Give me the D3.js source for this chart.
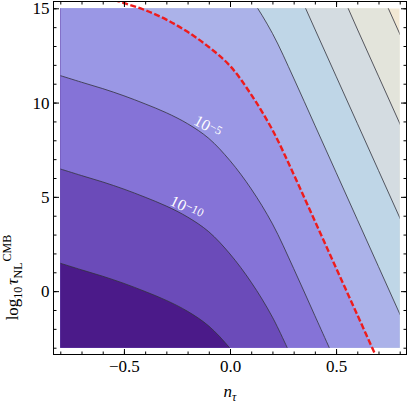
<!DOCTYPE html>
<html>
<head>
<meta charset="utf-8">
<script src="https://cdnjs.cloudflare.com/ajax/libs/d3/7.8.5/d3.min.js"></script>
<style>
  body { margin: 0; background: #fff; }
  svg { display: block; }
  text { font-family: "Liberation Serif", "Times New Roman", serif; }
</style>
</head>
<body>
<svg id="chart" width="409" height="403"></svg>
<script>
// contour levels (log10), each traced as [n_tau, log10 tau_NL] points
const levels = [-15, -10, -5, 0, 5, 10, 15, 20];

const lineM15 = [[-0.8, 1.48], [-0.7, 1.13], [-0.6, 0.79], [-0.5, 0.41], [-0.4, -0.02], [-0.3, -0.49], [-0.2, -1.07], [-0.1, -1.85], [0.0, -3.03], [0.1, -4.53]];
const lineM10 = [[-0.8, 6.48], [-0.7, 6.13], [-0.6, 5.79], [-0.5, 5.41], [-0.4, 4.98], [-0.3, 4.51], [-0.2, 3.93], [-0.1, 3.15], [0.0, 1.97], [0.1, 0.47], [0.2, -1.38], [0.3, -3.75]];
const lineM5 = [[-0.8, 11.43], [-0.7, 11.08], [-0.6, 10.74], [-0.5, 10.36], [-0.4, 9.93], [-0.3, 9.46], [-0.2, 8.88], [-0.1, 8.1], [0.0, 6.92], [0.1, 5.42], [0.2, 3.57], [0.3, 1.2], [0.4, -1.3], [0.5, -3.8]];
const line0 = [[-0.7, 15.95], [-0.6, 15.62], [-0.5, 15.28], [-0.4, 14.9], [-0.3, 14.4], [-0.2, 13.75], [-0.1, 12.95], [0.0, 11.95], [0.1, 10.42], [0.2, 8.55], [0.3, 6.2], [0.4, 3.72], [0.5, 1.23], [0.6, -1.25], [0.7, -3.75]];
const line5 = [[0.0, 17.02], [0.1, 15.52], [0.2, 13.67], [0.3, 11.3], [0.4, 8.8], [0.5, 6.3], [0.6, 3.8], [0.7, 1.3], [0.8, -1.2], [0.9, -3.7]];
const line10 = [[0.2, 18.77], [0.3, 16.4], [0.4, 13.9], [0.5, 11.4], [0.6, 8.9], [0.7, 6.4], [0.8, 3.9], [0.9, 1.4]];
const line15 = [[0.4, 18.95], [0.5, 16.45], [0.6, 13.9], [0.7, 11.4], [0.8, 8.9], [0.9, 6.4]];
const line20 = [[0.6, 18.65], [0.7, 16.15], [0.8, 13.65], [0.9, 11.15]];

const contourLines = [lineM15, lineM10, lineM5, line0, line5, line10, line15, line20];

const labelText = ["10", "10"];
const labelExp = ["\u221210", "\u22125"];
const labelAt = [[-0.293, 4.5], [-0.18, 8.78]];
const labelAngle = [26, 29];

const xMinor = [-0.8, -0.7, -0.6, -0.5, -0.4, -0.3, -0.2, -0.1, 0, 0.1, 0.2, 0.3, 0.4, 0.5, 0.6, 0.7, 0.8];
const xMajor = [-0.5, 0, 0.5];
const yMinor = [-3, -2, -1, 0, 1, 2, 3, 4, 5, 6, 7, 8, 9, 10, 11, 12, 13, 14, 15];
const yMajor = [0, 5, 10, 15];

// band colours, lowest band first
const bandColors = ["#4b1a89", "#6b4bb9", "#8573d7", "#9a97e5", "#abb2e9", "#bfd6e7", "#d4dce1", "#e3e4db", "#f2e8d4"];

const svg = d3.select("#chart");

const x = d3.scaleLinear().domain([-0.832, 0.832]).range([53.5, 406.5]);
const y = d3.scaleLinear().domain([-3.36, 15.36]).range([354.5, 1.5]);

const defs = svg.append("defs");
defs.append("clipPath").attr("id", "plotclip")
  .append("rect")
  .attr("x", x(-0.8)).attr("y", y(15))
  .attr("width", x(0.8) - x(-0.8)).attr("height", y(-3) - y(15));
defs.append("clipPath").attr("id", "frameclip")
  .append("rect")
  .attr("x", x.range()[0]).attr("y", y.range()[1])
  .attr("width", x.range()[1] - x.range()[0]).attr("height", y.range()[0] - y.range()[1]);

const line = d3.line().x(d => x(d[0])).y(d => y(d[1])).curve(d3.curveCatmullRom.alpha(0.5));

// filled bands: top band as background, then below-left of each contour from high to low
const fills = svg.append("g").attr("clip-path", "url(#plotclip)");
fills.append("rect")
  .attr("x", x(-0.8)).attr("y", y(15))
  .attr("width", x(0.8) - x(-0.8)).attr("height", y(-3) - y(15))
  .attr("fill", bandColors[levels.length]);

for (let i = levels.length - 1; i >= 0; i--) {
  const pts = contourLines[i];
  const first = pts[0], last = pts[pts.length - 1];
  const corners = [[last[0] + 1, -10], [-2, -10], [-2, 20], [first[0], 20]];
  const d = line(pts) + corners.map(p => "L" + x(p[0]) + "," + y(p[1])).join("") + "Z";
  fills.append("path").attr("d", d).attr("fill", bandColors[i]);
}

// contour lines
const strokes = svg.append("g").attr("clip-path", "url(#plotclip)");
contourLines.forEach((pts, i) => {
  if (levels[i] === 0) return;
  strokes.append("path")
    .attr("d", line(pts))
    .attr("fill", "none")
    .attr("stroke", "#33333d")
    .attr("stroke-opacity", 0.8)
    .attr("stroke-width", 1);
});

// contour labels
labelAt.forEach((p, i) => {
  const t = svg.append("text")
    .attr("transform", `translate(${x(p[0])},${y(p[1])}) rotate(${labelAngle[i]})`)
    .attr("fill", "#fff")
    .attr("font-size", 16)
    .attr("dy", -2);
  t.append("tspan").text(labelText[i]);
  t.append("tspan").attr("font-size", 12).attr("dy", -3).text(labelExp[i]);
});

// red dashed level-0 line
svg.append("path")
  .attr("clip-path", "url(#frameclip)")
  .attr("d", line(line0))
  .attr("fill", "none")
  .attr("stroke", "#ee1c1c")
  .attr("stroke-width", 2.4)
  .attr("stroke-dasharray", "6,2.5");

// frame ticks (inward)
function styleAxis(g) {
  g.select(".domain").remove();
  g.selectAll("line").attr("stroke", "#000").attr("stroke-width", 1);
  g.selectAll("text").attr("font-size", 17).attr("font-family", "'Liberation Serif', 'Times New Roman', serif").attr("fill", "#000");
}
const yb = y.range()[0], yt = y.range()[1], xl = x.range()[0], xr = x.range()[1];

svg.append("g").attr("transform", `translate(0,${yb})`)
  .call(d3.axisBottom(x).tickValues(xMinor).tickSize(-3).tickFormat("")).call(styleAxis);
svg.append("g").attr("transform", `translate(0,${yb})`)
  .call(d3.axisBottom(x).tickValues(xMajor).tickSize(-5.5).tickPadding(5).tickFormat(d3.format(".1f"))).call(styleAxis);
svg.append("g").attr("transform", `translate(0,${yt})`)
  .call(d3.axisTop(x).tickValues(xMinor).tickSize(-3).tickFormat("")).call(styleAxis);
svg.append("g").attr("transform", `translate(0,${yt})`)
  .call(d3.axisTop(x).tickValues(xMajor).tickSize(-5.5).tickFormat("")).call(styleAxis);

svg.append("g").attr("transform", `translate(${xl},0)`)
  .call(d3.axisLeft(y).tickValues(yMinor).tickSize(-3).tickFormat("")).call(styleAxis);
svg.append("g").attr("transform", `translate(${xl},0)`)
  .call(d3.axisLeft(y).tickValues(yMajor).tickSize(-5.5).tickPadding(4).tickFormat(d3.format("d"))).call(styleAxis);
svg.append("g").attr("transform", `translate(${xr},0)`)
  .call(d3.axisRight(y).tickValues(yMinor).tickSize(-3).tickFormat("")).call(styleAxis);
svg.append("g").attr("transform", `translate(${xr},0)`)
  .call(d3.axisRight(y).tickValues(yMajor).tickSize(-5.5).tickFormat("")).call(styleAxis);

svg.append("rect")
  .attr("x", xl).attr("y", yt)
  .attr("width", xr - xl).attr("height", yb - yt)
  .attr("fill", "none").attr("stroke", "#000").attr("stroke-width", 1);

// axis titles
const xt = svg.append("text")
  .attr("x", x(0)).attr("y", 397)
  .attr("text-anchor", "middle")
  .attr("font-size", 17).attr("font-style", "italic");
xt.append("tspan").text("n");
xt.append("tspan").attr("font-size", 12).attr("dy", 4).text("\u03c4");

const ytl = svg.append("text")
  .attr("transform", `translate(18,${y(-1.55)}) rotate(-90)`)
  .attr("text-anchor", "start")
  .attr("font-size", 17);
ytl.append("tspan").text("log");
ytl.append("tspan").attr("font-size", 12).attr("dy", 4).text("10");
ytl.append("tspan").attr("dy", -4).attr("dx", 2).attr("font-style", "italic").text("\u03c4");
ytl.append("tspan").attr("font-size", 12).attr("dy", 4).text("NL");
ytl.append("tspan").attr("font-size", 12).attr("dy", -11).attr("dx", 1).text("CMB");
</script>
</body>
</html>
